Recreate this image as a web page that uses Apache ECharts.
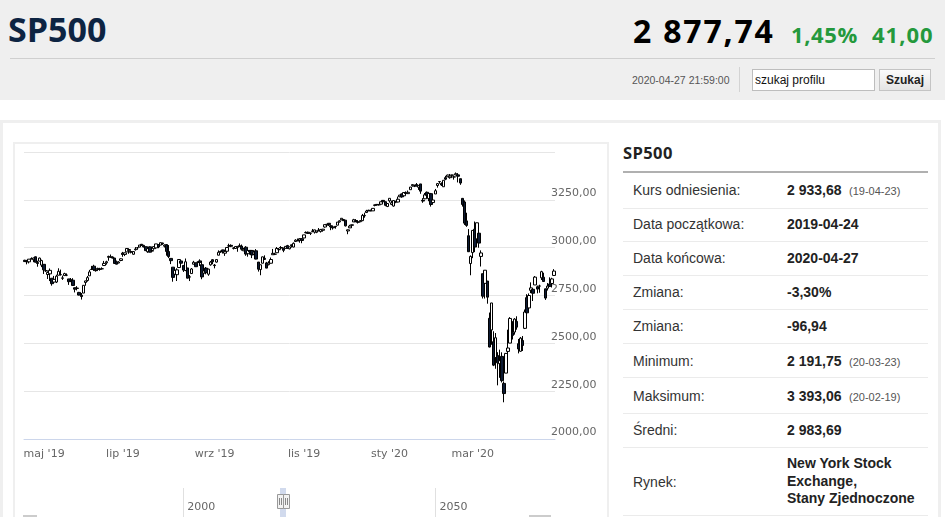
<!DOCTYPE html>
<html><head><meta charset="utf-8">
<script src="https://cdn.jsdelivr.net/npm/echarts@6/dist/echarts.min.js"></script>
<style>
html,body{margin:0;padding:0;background:#fff;width:945px;height:517px;overflow:hidden;font-family:"Liberation Sans",Arial,sans-serif;}
.a{position:absolute;white-space:nowrap;}
.lab{position:absolute;left:633px;font:14px/14px "Liberation Sans",Arial,sans-serif;color:#333;white-space:nowrap;}
.val{position:absolute;left:787px;font:bold 14px/14px "Liberation Sans",Arial,sans-serif;color:#222;white-space:nowrap;}
.sm{position:absolute;left:849px;font:11px/11px "Liberation Sans",Arial,sans-serif;color:#555;white-space:nowrap;}
.sep{position:absolute;left:623px;width:305px;height:1px;background:#ebebeb;}
</style></head><body>
<div class="a" style="left:0;top:0;width:945px;height:100px;background:#efefef"></div>
<div class="a" style="left:8px;top:11.8px;font:bold 34px/34px 'Open Sans',sans-serif;color:#0d2442">SP500</div>
<div class="a" style="left:633px;top:14.6px;font:bold 32px/32px 'Open Sans',sans-serif;letter-spacing:1.8px;color:#000">2 877,74</div>
<div class="a" style="left:791px;top:22.5px;font:bold 22px/22px 'Open Sans',sans-serif;letter-spacing:0.6px;color:#24993c">1,45%</div>
<div class="a" style="left:872px;top:22.5px;font:bold 22px/22px 'Open Sans',sans-serif;letter-spacing:1px;color:#24993c">41,00</div>
<div class="a" style="left:10px;top:58px;width:925px;height:1px;background:#cfcfcf"></div>
<div class="a" style="left:632px;top:74.9px;font:10.5px/10.5px 'Liberation Sans',Arial,sans-serif;color:#555">2020-04-27 21:59:00</div>
<div class="a" style="left:739px;top:67px;width:1px;height:25px;background:#d3d3d3"></div>
<div class="a" style="left:752px;top:69px;width:121px;height:20px;border:1px solid #bdbdbd;background:#fff;font:12px/20px 'Liberation Sans',Arial,sans-serif;color:#111;padding:0;"><span style="margin-left:2px">szukaj profilu</span></div>
<div class="a" style="left:879px;top:69px;width:50px;height:20px;border:1px solid #c4c4c4;background:linear-gradient(#fbfbfb,#e4e4e4);font:bold 12px/20px 'Liberation Sans',Arial,sans-serif;color:#222;text-align:center">Szukaj</div>

<div class="a" style="left:0;top:120px;width:935px;height:400px;border:3px solid #efefef;border-bottom:none"></div>
<div class="a" style="left:13px;top:142px;width:592px;height:380px;border:2px solid #efefef;border-bottom:none"></div>
<div id="chart" class="a" style="left:15px;top:144px;width:592px;height:373px"></div>

<div class="a" style="left:623px;top:145.3px;font:bold 16.5px/16.5px 'Open Sans',sans-serif;letter-spacing:0.4px;color:#222">SP500</div>
<div class="a" style="left:623px;top:170.5px;width:305px;height:2px;background:#b0b0b0"></div>

<div class="lab" style="top:183.2px">Kurs odniesienia:</div>
<div class="val" style="top:183.2px">2 933,68</div><div class="sm" style="top:185.7px">(19-04-23)</div>
<div class="sep" style="top:207.5px"></div>
<div class="lab" style="top:217.2px">Data początkowa:</div>
<div class="val" style="top:217.2px">2019-04-24</div>
<div class="sep" style="top:241px"></div>
<div class="lab" style="top:251.2px">Data końcowa:</div>
<div class="val" style="top:251.2px">2020-04-27</div>
<div class="sep" style="top:275px"></div>
<div class="lab" style="top:285.2px">Zmiana:</div>
<div class="val" style="top:285.2px">-3,30%</div>
<div class="sep" style="top:308.5px"></div>
<div class="lab" style="top:319.2px">Zmiana:</div>
<div class="val" style="top:319.2px">-96,94</div>
<div class="sep" style="top:342.5px"></div>
<div class="lab" style="top:354.2px">Minimum:</div>
<div class="val" style="top:354.2px">2 191,75</div><div class="sm" style="top:356.7px">(20-03-23)</div>
<div class="sep" style="top:377px"></div>
<div class="lab" style="top:389.2px">Maksimum:</div>
<div class="val" style="top:389.2px">3 393,06</div><div class="sm" style="top:391.7px">(20-02-19)</div>
<div class="sep" style="top:412.5px"></div>
<div class="lab" style="top:423.2px">Średni:</div>
<div class="val" style="top:423.2px">2 983,69</div>
<div class="sep" style="top:446.5px"></div>
<div class="lab" style="top:475.2px">Rynek:</div>
<div class="val" style="top:455.4px;line-height:17.5px">New York Stock<br>Exchange,<br>Stany Zjednoczone</div>
<div class="sep" style="top:515px"></div>

<script>
const dates = [
"2019-04-24","2019-04-25","2019-04-26","2019-04-29","2019-04-30",
"2019-05-01","2019-05-02","2019-05-03","2019-05-06","2019-05-07","2019-05-08","2019-05-09","2019-05-10","2019-05-13","2019-05-14","2019-05-15","2019-05-16","2019-05-17","2019-05-20","2019-05-21","2019-05-22","2019-05-23","2019-05-24","2019-05-28","2019-05-29","2019-05-30","2019-05-31",
"2019-06-03","2019-06-04","2019-06-05","2019-06-06","2019-06-07","2019-06-10","2019-06-11","2019-06-12","2019-06-13","2019-06-14","2019-06-17","2019-06-18","2019-06-19","2019-06-20","2019-06-21","2019-06-24","2019-06-25","2019-06-26","2019-06-27","2019-06-28",
"2019-07-01","2019-07-02","2019-07-03","2019-07-05","2019-07-08","2019-07-09","2019-07-10","2019-07-11","2019-07-12","2019-07-15","2019-07-16","2019-07-17","2019-07-18","2019-07-19","2019-07-22","2019-07-23","2019-07-24","2019-07-25","2019-07-26","2019-07-29","2019-07-30","2019-07-31",
"2019-08-01","2019-08-02","2019-08-05","2019-08-06","2019-08-07","2019-08-08","2019-08-09","2019-08-12","2019-08-13","2019-08-14","2019-08-15","2019-08-16","2019-08-19","2019-08-20","2019-08-21","2019-08-22","2019-08-23","2019-08-26","2019-08-27","2019-08-28","2019-08-29","2019-08-30",
"2019-09-03","2019-09-04","2019-09-05","2019-09-06","2019-09-09","2019-09-10","2019-09-11","2019-09-12","2019-09-13","2019-09-16","2019-09-17","2019-09-18","2019-09-19","2019-09-20","2019-09-23","2019-09-24","2019-09-25","2019-09-26","2019-09-27","2019-09-30",
"2019-10-01","2019-10-02","2019-10-03","2019-10-04","2019-10-07","2019-10-08","2019-10-09","2019-10-10","2019-10-11","2019-10-14","2019-10-15","2019-10-16","2019-10-17","2019-10-18","2019-10-21","2019-10-22","2019-10-23","2019-10-24","2019-10-25","2019-10-28","2019-10-29","2019-10-30","2019-10-31",
"2019-11-01","2019-11-04","2019-11-05","2019-11-06","2019-11-07","2019-11-08","2019-11-11","2019-11-12","2019-11-13","2019-11-14","2019-11-15","2019-11-18","2019-11-19","2019-11-20","2019-11-21","2019-11-22","2019-11-25","2019-11-26","2019-11-27","2019-11-29",
"2019-12-02","2019-12-03","2019-12-04","2019-12-05","2019-12-06","2019-12-09","2019-12-10","2019-12-11","2019-12-12","2019-12-13","2019-12-16","2019-12-17","2019-12-18","2019-12-19","2019-12-20","2019-12-23","2019-12-24","2019-12-26","2019-12-27","2019-12-30","2019-12-31",
"2020-01-02","2020-01-03","2020-01-06","2020-01-07","2020-01-08","2020-01-09","2020-01-10","2020-01-13","2020-01-14","2020-01-15","2020-01-16","2020-01-17","2020-01-21","2020-01-22","2020-01-23","2020-01-24","2020-01-27","2020-01-28","2020-01-29","2020-01-30","2020-01-31",
"2020-02-03","2020-02-04","2020-02-05","2020-02-06","2020-02-07","2020-02-10","2020-02-11","2020-02-12","2020-02-13","2020-02-14","2020-02-18","2020-02-19","2020-02-20","2020-02-21","2020-02-24","2020-02-25","2020-02-26","2020-02-27","2020-02-28",
"2020-03-02","2020-03-03","2020-03-04","2020-03-05","2020-03-06","2020-03-09","2020-03-10","2020-03-11","2020-03-12","2020-03-13","2020-03-16","2020-03-17","2020-03-18","2020-03-19","2020-03-20","2020-03-23","2020-03-24","2020-03-25","2020-03-26","2020-03-27","2020-03-30","2020-03-31",
"2020-04-01","2020-04-02","2020-04-03","2020-04-06","2020-04-07","2020-04-08","2020-04-09","2020-04-13","2020-04-14","2020-04-15","2020-04-16","2020-04-17","2020-04-20","2020-04-21","2020-04-22","2020-04-23","2020-04-24","2020-04-27"
];
const open = [
2934.0,2929.0,2925.8,2940.6,2937.1,
2952.3,2922.2,2929.2,2908.9,2913.0,2879.6,2859.8,2863.1,2840.2,2820.1,2820.4,2855.8,2858.6,2841.9,2854.0,2856.1,2836.7,2832.4,2830.0,2790.3,2786.9,2766.2,
2751.5,2762.6,2818.1,2828.5,2852.9,2885.8,2903.3,2882.7,2886.2,2886.8,2889.8,2906.7,2920.6,2949.6,2952.7,2951.4,2945.8,2926.1,2919.7,2932.9,
2971.4,2964.7,2978.1,2984.3,2979.8,2965.5,2989.3,2999.6,3003.4,3017.8,3012.1,3005.1,2978.9,3004.3,2981.9,2994.7,2998.8,3016.3,3013.3,3024.5,3007.7,3016.2,
2980.3,2943.9,2898.1,2861.2,2858.7,2896.2,2930.5,2907.1,2880.7,2894.2,2846.2,2864.7,2913.5,2919.0,2922.0,2930.9,2911.1,2866.7,2893.1,2861.3,2910.4,2937.1,
2909.0,2924.7,2960.6,2980.3,2988.4,2971.0,2981.4,3009.1,3012.2,2996.4,2995.7,3001.5,3010.4,3008.4,2983.5,3002.4,2968.4,2985.7,2985.5,2967.1,
2983.7,2924.8,2885.4,2918.6,2944.2,2920.4,2911.1,2918.6,2963.1,2965.8,2973.6,2989.7,3000.8,2996.8,2996.5,3010.7,2994.0,3014.8,3003.3,3032.1,3035.4,3039.7,3046.9,
3050.7,3079.0,3080.8,3075.1,3087.0,3081.3,3080.3,3089.3,3084.2,3090.8,3107.9,3117.9,3127.5,3114.7,3108.5,3111.4,3117.4,3134.9,3145.5,3147.2,
3143.8,3087.4,3103.5,3119.2,3134.6,3141.9,3135.4,3135.8,3141.2,3166.7,3183.6,3195.4,3195.2,3192.3,3223.3,3226.1,3225.5,3227.2,3247.2,3240.1,3215.2,
3244.7,3226.4,3217.6,3241.9,3238.6,3266.0,3281.0,3271.1,3285.4,3282.3,3303.0,3323.7,3321.0,3330.0,3315.8,3333.1,3247.2,3255.4,3289.5,3256.5,3282.3,
3235.7,3280.6,3324.9,3344.9,3335.5,3318.3,3365.9,3370.5,3365.9,3378.1,3369.0,3380.4,3380.5,3360.5,3257.6,3238.9,3139.9,3062.5,2916.9,
2974.3,3096.5,3045.8,3075.7,2954.2,2863.9,2813.5,2825.6,2630.9,2570.0,2508.6,2425.7,2436.5,2393.5,2431.9,2290.7,2344.4,2457.8,2501.3,2555.9,2559.0,2614.7,
2498.1,2458.5,2514.9,2578.3,2738.7,2685.0,2777.0,2782.5,2805.1,2795.6,2799.3,2842.4,2845.6,2784.8,2787.9,2810.4,2812.6,2854.7
];
const close = [
2927.3,2926.2,2939.9,2943.0,2945.8,
2923.7,2917.5,2945.6,2932.5,2884.1,2879.4,2870.7,2881.4,2811.9,2834.4,2851.0,2876.3,2859.5,2840.2,2864.4,2856.3,2822.2,2826.1,2802.4,2783.0,2788.9,2752.1,
2744.5,2803.3,2826.2,2843.5,2873.3,2886.7,2885.7,2879.8,2891.6,2887.0,2889.7,2917.8,2926.5,2954.2,2950.5,2945.4,2917.4,2913.8,2924.9,2941.8,
2964.3,2973.0,2995.8,2990.4,2976.0,2979.6,2993.1,2999.9,3013.8,3014.3,3004.0,2984.4,2995.1,2976.6,2985.0,3005.5,3019.6,3003.7,3025.9,3021.0,3013.2,2980.4,
2953.6,2932.1,2844.7,2881.8,2884.0,2938.1,2918.7,2882.7,2926.3,2840.6,2847.6,2888.7,2923.7,2900.5,2924.4,2923.0,2847.1,2878.4,2869.2,2887.9,2924.6,2926.5,
2906.3,2937.8,2976.0,2978.7,2978.4,2979.4,3000.9,3009.6,3007.4,2998.0,3005.7,3006.7,3006.8,2992.1,2991.8,2966.6,2984.9,2977.6,2961.8,2976.7,
2940.3,2887.6,2910.6,2952.0,2938.8,2893.1,2919.4,2938.1,2970.3,2966.2,2995.7,2989.7,2998.0,2986.2,3006.7,2996.0,3004.5,3010.3,3022.6,3039.4,3036.9,3046.8,3037.6,
3066.9,3078.3,3074.6,3076.8,3085.2,3093.1,3087.0,3091.8,3094.0,3096.6,3120.5,3122.0,3120.2,3108.5,3103.5,3110.3,3133.6,3140.5,3153.6,3141.0,
3113.9,3093.2,3112.8,3117.4,3145.9,3136.0,3132.5,3141.6,3168.6,3168.8,3191.5,3192.5,3191.1,3205.4,3221.2,3224.0,3223.4,3239.9,3240.0,3221.3,3230.8,
3257.9,3234.9,3246.3,3237.2,3253.1,3274.7,3265.4,3288.1,3283.2,3289.3,3316.8,3329.6,3320.8,3321.8,3325.5,3295.5,3243.6,3276.2,3273.4,3283.7,3225.5,
3248.9,3297.6,3334.7,3345.8,3327.7,3352.1,3357.8,3379.5,3373.9,3380.2,3370.3,3386.2,3373.2,3337.8,3225.9,3128.2,3116.4,2978.8,2954.2,
3090.2,3003.4,3130.1,3023.9,2972.4,2746.6,2882.2,2741.4,2480.6,2711.0,2386.1,2529.2,2398.1,2409.4,2304.9,2237.4,2447.3,2475.6,2630.1,2541.5,2626.7,2584.6,
2470.5,2526.9,2488.7,2663.7,2659.4,2750.0,2789.8,2761.6,2846.1,2783.4,2799.6,2874.6,2823.2,2736.6,2799.3,2797.8,2836.7,2877.7
];
const low = [
2926.1,2912.8,2917.6,2939.4,2924.1,
2923.4,2900.5,2929.2,2898.2,2862.6,2873.3,2836.4,2825.4,2801.4,2820.1,2815.1,2855.8,2854.2,2831.3,2854.0,2851.1,2805.5,2820.2,2801.6,2766.1,2776.7,2750.5,
2728.8,2762.6,2800.9,2822.5,2852.9,2885.5,2878.5,2874.7,2881.0,2879.6,2887.3,2905.4,2911.4,2931.5,2946.9,2944.1,2916.0,2913.0,2918.6,2929.1,
2952.2,2955.9,2978.0,2968.0,2970.1,2963.4,2984.6,2988.8,3001.9,3008.8,3001.2,2984.3,2973.1,2975.9,2976.7,2988.6,2996.8,2997.2,3012.6,3014.5,3000.9,2958.1,
2945.2,2914.1,2822.1,2847.4,2825.7,2894.5,2900.2,2873.1,2877.1,2839.6,2825.5,2864.7,2913.5,2899.6,2917.9,2904.5,2835.0,2856.0,2860.6,2853.1,2905.7,2913.3,
2891.9,2921.9,2960.6,2972.5,2969.4,2957.0,2975.3,3000.9,3002.9,2990.7,2993.7,2978.6,3003.2,2984.7,2982.2,2957.7,2952.9,2963.7,2945.5,2967.1,
2938.7,2874.9,2855.9,2918.6,2935.7,2892.7,2907.4,2917.1,2963.1,2962.9,2973.6,2985.2,2991.8,2976.3,2995.4,2995.0,2991.2,3000.4,3001.9,3032.1,3034.8,3026.0,3023.2,
3050.7,3074.9,3072.2,3065.9,3080.2,3073.6,3075.8,3084.7,3078.8,3083.3,3104.6,3112.1,3113.5,3091.4,3094.6,3099.3,3117.4,3131.0,3143.4,3139.3,
3110.8,3070.3,3102.5,3103.8,3134.6,3135.5,3126.1,3133.2,3138.5,3156.5,3183.6,3191.0,3191.1,3192.3,3216.0,3222.3,3220.5,3227.2,3234.4,3216.6,3212.0,
3235.5,3222.3,3214.6,3232.4,3236.7,3263.7,3260.9,3268.4,3277.2,3280.7,3303.0,3318.9,3316.6,3320.0,3301.9,3281.5,3234.5,3253.2,3271.9,3242.8,3214.7,
3235.7,3280.6,3313.8,3334.4,3322.1,3317.8,3352.7,3369.7,3360.5,3367.0,3355.6,3378.8,3341.0,3328.5,3214.7,3118.8,3109.0,2977.4,2855.8,
2945.2,2976.6,3034.4,2999.8,2901.5,2734.4,2734.0,2707.2,2478.9,2492.4,2380.9,2367.0,2280.5,2319.8,2295.6,2191.9,2344.4,2407.5,2500.7,2520.0,2545.3,2571.2,
2447.5,2455.8,2460.0,2574.6,2657.7,2663.3,2762.4,2721.2,2805.1,2761.5,2764.3,2830.9,2820.4,2727.1,2776.0,2794.3,2791.8,2852.9
];
const high = [
2936.8,2933.1,2939.9,2949.5,2948.2,
2954.1,2931.7,2947.9,2937.3,2913.0,2897.9,2875.9,2891.3,2840.2,2852.5,2858.7,2892.2,2885.5,2853.9,2868.9,2865.5,2836.7,2841.4,2840.5,2792.0,2799.0,2768.9,
2763.1,2804.5,2827.3,2852.1,2884.0,2904.8,2910.6,2888.6,2895.2,2894.5,2897.3,2930.8,2931.7,2958.1,2964.2,2954.9,2946.5,2932.6,2929.3,2944.0,
2977.9,2973.2,2995.8,2994.0,2980.8,2981.9,3003.0,3002.3,3013.9,3017.8,3015.0,3005.3,2998.3,3006.5,2990.7,3005.9,3019.6,3016.3,3028.0,3025.6,3017.2,3017.4,
3013.6,2945.5,2898.1,2884.4,2892.2,2938.7,2935.8,2907.6,2943.3,2894.2,2856.7,2893.6,2931.0,2923.6,2928.7,2939.1,2927.0,2879.3,2898.8,2890.0,2930.5,2940.4,
2914.4,2938.8,2985.9,2985.0,2989.4,2979.4,3000.9,3020.7,3017.3,3002.2,3006.2,3007.8,3022.0,3016.4,2999.2,3008.0,2989.8,2987.3,2987.3,2983.8,
2992.5,2924.8,2911.1,2953.7,2959.8,2925.5,2929.3,2948.5,2993.3,2972.8,3003.3,2997.5,3008.3,3000.0,3007.3,3014.6,3004.8,3016.1,3027.4,3044.1,3047.9,3050.1,3046.9,
3067.0,3085.2,3084.0,3078.3,3097.8,3093.1,3088.3,3102.6,3098.1,3098.2,3120.5,3124.2,3127.6,3119.0,3110.1,3112.9,3133.8,3142.7,3154.3,3150.3,
3144.3,3095.0,3119.4,3119.4,3150.6,3148.9,3142.1,3144.0,3176.3,3182.7,3197.7,3198.2,3198.5,3205.5,3225.6,3227.8,3226.4,3240.1,3247.9,3240.9,3231.7,
3258.1,3246.2,3246.8,3244.9,3267.1,3275.6,3283.0,3288.1,3294.2,3298.7,3317.1,3329.9,3329.8,3337.8,3326.9,3333.2,3258.9,3285.8,3293.5,3285.9,3282.3,
3268.4,3306.9,3337.6,3348.0,3341.4,3352.3,3375.6,3381.5,3385.1,3380.7,3375.0,3393.1,3389.2,3360.8,3259.8,3247.0,3182.5,3097.1,2959.7,
3091.0,3136.7,3131.0,3083.0,2985.9,2863.9,2882.6,2825.6,2660.9,2711.3,2563.0,2553.9,2453.6,2467.0,2453.0,2300.7,2449.7,2571.4,2637.0,2615.9,2631.8,2641.4,
2522.8,2533.2,2538.2,2676.9,2756.9,2760.8,2818.6,2782.5,2851.9,2801.9,2806.5,2879.2,2869.0,2785.5,2815.1,2844.9,2842.7,2887.7
];
const tickIdx = [7, 47, 91, 134, 175, 215];
const monthsPl = ['sty','lut','mar','kwi','maj','cze','lip','sie','wrz','paź','lis','gru'];
const yTicks = {min: 2000, max: 3500, step: 250};
const navTicks = [2000, 2050];
const navRange = [1968.42, 2073.69];

const candles = dates.map((d, i) => [open[i], close[i], low[i], high[i]]);
const F = 'DejaVu Sans';
const chart = echarts.init(document.getElementById('chart'));
const showIdx = (i) => tickIdx.indexOf(i) >= 0;
chart.setOption({
  animation: false,
  grid: [
    {left: 9, right: 52, top: 8, height: 287},
    {left: 9, right: 52, top: 344, height: 40}
  ],
  xAxis: [{
    type: 'category', data: dates, gridIndex: 0, boundaryGap: true,
    axisLine: {lineStyle: {color: '#ccd6eb', width: 1}},
    axisTick: {alignWithLabel: true, interval: showIdx, length: 7, lineStyle: {color: '#ccd6eb'}},
    axisLabel: {interval: showIdx, margin: 10, color: '#666', fontSize: 11, fontFamily: F,
      rich: {first: {padding: [0, 0, 0, 9], color: '#666', fontSize: 11, fontFamily: F}},
      formatter: (v, i) => {
        const p = v.split('-');
        const t = monthsPl[+p[1] - 1] + " '" + p[0].slice(2);
        return i === tickIdx[0] ? '{first|' + t + '}' : t;
      }},
    splitLine: {show: false}
  }, {
    type: 'value', gridIndex: 1, position: 'top', min: navRange[0], max: navRange[1],
    axisLine: {show: true, lineStyle: {color: '#bbbbbb', width: 1}},
    axisTick: {show: false, customValues: navTicks},
    axisLabel: {inside: true, customValues: navTicks, margin: 19, verticalAlign: 'middle', align: 'left',
      padding: [0, 0, 0, 4], color: '#666', fontSize: 11, fontFamily: F, formatter: (v) => String(v)},
    splitLine: {show: true, lineStyle: {color: '#e0e0e0', width: 1}}
  }],
  yAxis: [{
    type: 'value', gridIndex: 0, position: 'right', min: yTicks.min, max: yTicks.max, interval: yTicks.step,
    axisLine: {show: false}, axisTick: {show: false},
    axisLabel: {showMaxLabel: false, margin: -4, verticalAlign: 'bottom', lineHeight: 11, padding: [0, 0, 1, 0],
      color: '#666', fontSize: 11, fontFamily: F,
      formatter: (v) => v.toFixed(2).replace('.', ',')},
    splitLine: {lineStyle: {color: '#e6e6e6', width: 1}}
  }, {
    type: 'value', gridIndex: 1, min: 0, max: 1, show: false
  }],
  series: [{
    type: 'candlestick', xAxisIndex: 0, yAxisIndex: 0, data: candles, barWidth: 3,
    itemStyle: {color: '#ffffff', color0: '#0c1a33', borderColor: '#000000', borderColor0: '#000000', borderWidth: 1}
  }, {
    type: 'line', xAxisIndex: 1, yAxisIndex: 1, data: [], silent: true
  }],
  graphic: [
    {type: 'rect', shape: {x: 265, y: 344, width: 6, height: 30}, style: {fill: 'rgba(102,133,194,0.3)'}, silent: true},
    {type: 'rect', shape: {x: 262.5, y: 350.5, width: 6, height: 14}, style: {fill: '#f2f2f2', stroke: '#999', lineWidth: 1}, silent: true},
    {type: 'rect', shape: {x: 268.5, y: 350.5, width: 6, height: 14}, style: {fill: '#f2f2f2', stroke: '#999', lineWidth: 1}, silent: true},
    {type: 'line', shape: {x1: 264.5, y1: 354, x2: 264.5, y2: 361}, style: {stroke: '#888', lineWidth: 1}, silent: true},
    {type: 'line', shape: {x1: 266.5, y1: 354, x2: 266.5, y2: 361}, style: {stroke: '#888', lineWidth: 1}, silent: true},
    {type: 'line', shape: {x1: 270.5, y1: 354, x2: 270.5, y2: 361}, style: {stroke: '#888', lineWidth: 1}, silent: true},
    {type: 'line', shape: {x1: 272.5, y1: 354, x2: 272.5, y2: 361}, style: {stroke: '#888', lineWidth: 1}, silent: true},
    {type: 'rect', shape: {x: 8, y: 371, width: 14, height: 4}, style: {fill: '#cccccc'}, silent: true},
    {type: 'rect', shape: {x: 514, y: 371, width: 22, height: 4}, style: {fill: '#cccccc'}, silent: true}
  ]
});
</script>
</body></html>
